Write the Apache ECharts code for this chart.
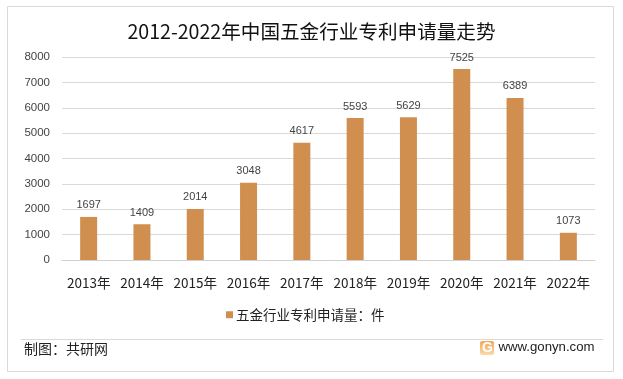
<!DOCTYPE html>
<html><head><meta charset="utf-8">
<style>html,body{margin:0;padding:0;background:#fff}#c{width:623px;height:379px}</style>
<script src="https://cdn.jsdelivr.net/npm/echarts@6/dist/echarts.min.js"></script>
</head><body><div id="c"></div>
<script>
const categories=['2013年','2014年','2015年','2016年','2017年','2018年','2019年','2020年','2021年','2022年'];
const applications=[1697,1409,2014,3048,4617,5593,5629,7525,6389,1073];
const yTicks={min:0,max:8000,interval:1000};
const titleText='2012-2022年中国五金行业专利申请量走势';
const seriesName='五金行业专利申请量：件';
const sourceText='制图：共研网';
const siteText='www.gonyn.com';
const font='"Noto Sans CJK SC","Liberation Sans",sans-serif';
const chart=echarts.init(document.getElementById('c'),null,{renderer:'canvas'});
chart.setOption({
 animation:false,
 backgroundColor:'#fff',
 title:{text:titleText,left:'center',top:17,textStyle:{fontFamily:font,fontSize:19.6,fontWeight:'normal',color:'#111'}},
 grid:{left:62,right:28,top:57,bottom:119,containLabel:false},
 legend:{data:[seriesName],left:226,top:308,padding:0,icon:'rect',itemWidth:7,itemHeight:7,itemGap:2,
  textStyle:{fontFamily:font,fontSize:13.5,color:'#222',padding:[0,0,0,-2]}},
 xAxis:{type:'category',data:categories,axisTick:{show:false},
  axisLine:{lineStyle:{color:'#d0d0d0'}},
  axisLabel:{fontFamily:font,fontSize:13.5,color:'#222',margin:16,interval:0}},
 yAxis:{type:'value',min:yTicks.min,max:yTicks.max,interval:yTicks.interval,
  axisLine:{show:false},axisTick:{show:false},
  splitLine:{lineStyle:{color:'#d9d9d9'}},
  axisLabel:{formatter:v=>String(v),fontFamily:'"Liberation Sans",sans-serif',fontSize:11.5,color:'#444',margin:12}},
 series:[{name:seriesName,type:'bar',data:applications,barWidth:17,
  itemStyle:{color:'#d18f4f'},
  label:{show:true,position:'top',distance:6,fontFamily:'"Liberation Sans",sans-serif',fontSize:11,color:'#444'}}],
 graphic:[
  {type:'rect',silent:true,z:-1,shape:{x:7.5,y:6.5,width:606,height:365},style:{fill:'#fff',stroke:'#d9d9d9',lineWidth:1}},
  {type:'line',silent:true,shape:{x1:21,y1:339.5,x2:603,y2:339.5},style:{stroke:'#d9d9d9',lineWidth:1}},
  {type:'text',style:{x:24,y:342,text:sourceText,fontFamily:font,fontSize:14,fill:'#222'}},
  {type:'rect',silent:true,shape:{x:480,y:341,width:14,height:14,r:2},style:{fill:new echarts.graphic.LinearGradient(0,0,0,1,[{offset:0,color:'#f2a65a'},{offset:1,color:'#fbd9a8'}])}},
  {type:'text',style:{x:482,y:341,text:'G',fontFamily:'"Liberation Sans",sans-serif',fontWeight:'bold',fontSize:14,fill:'#fff'}},
  {type:'text',style:{x:498.5,y:341,text:siteText,fontFamily:'"Liberation Sans",sans-serif',fontSize:13.2,fill:'#222'}}
 ]
});
</script></body></html>
